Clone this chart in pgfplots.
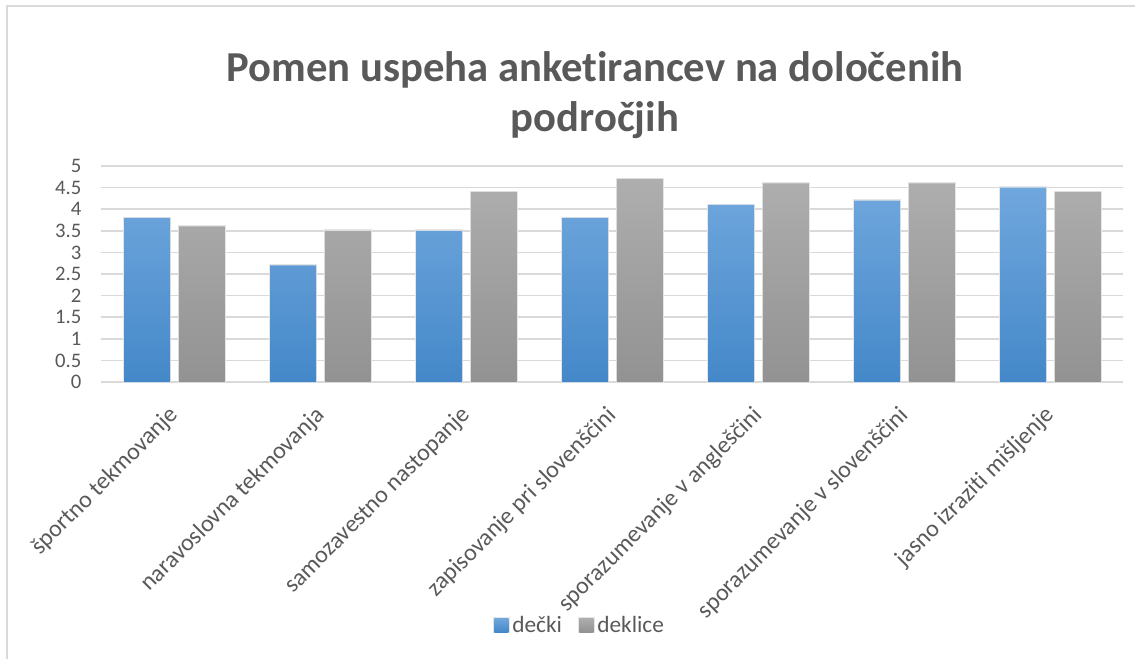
\documentclass[border=0pt]{standalone}
\usepackage{fontspec}
\setmainfont{Carlito}[Ligatures={NoCommon}]
\usepackage{pgfplots}
\pgfplotsset{compat=1.18}

\definecolor{txt}{HTML}{595959}
\definecolor{gridc}{HTML}{D9D9D9}
\definecolor{blueT}{HTML}{70A7DD}
\definecolor{blueB}{HTML}{4488C9}
\definecolor{grayT}{HTML}{AEAEAE}
\definecolor{grayB}{HTML}{929292}

\begin{document}
\begin{tikzpicture}
% page = 1135 x 659 px at 0.75pt/px
\useasboundingbox (0,0) rectangle (851.25pt,-494.25pt);
\draw[gridc, line width=1.1pt] (5.25pt,-4.5pt) rectangle (860pt,-505pt);

\node[font=\bfseries\fontsize{32}{37.5}\selectfont, text=txt, align=center]
  at (446.25pt,-71.25pt) {Pomen uspeha anketirancev na določenih\\področjih};

\begin{axis}[
    at={(76.125pt,-286.5pt)}, anchor=south west,
    width=766.5pt, height=162pt, scale only axis,
    xmin=-0.5, xmax=6.5,
    ymin=0, ymax=5,
    ytick={0,0.5,...,5},
    yticklabels={0,0.5,1,1.5,2,2.5,3,3.5,4,4.5,5},
    xtick={0,...,6},
    xticklabels={športno tekmovanje, naravoslovna tekmovanja, samozavestno nastopanje,
                 zapisovanje pri slovenščini, sporazumevanje v angleščini,
                 sporazumevanje v slovenščini, jasno izraziti mišljenje},
    axis x line*=bottom, axis y line*=left,
    y axis line style={draw=none},
    x axis line style={gridc, line width=1.1pt},
    tick style={draw=none},
    ymajorgrids=true,
    grid style={gridc, line width=1.1pt},
    yticklabel style={font=\fontsize{15.5}{18}\selectfont, text=txt, inner sep=0pt, anchor=east, xshift=-15pt},
    xticklabel style={font=\fontsize{18}{21}\selectfont, text=txt, inner sep=0pt,
                      rotate=45, anchor=north east, xshift=-12.5pt, yshift=-5pt},
    ybar, bar width=34.5pt,
    legend columns=2,
    legend style={at={(rel axis cs:0.468,-1.125)}, anchor=center, draw=none, fill=none,
                  font=\fontsize{17.5}{20}\selectfont, text=txt,
                  /tikz/every even column/.append style={column sep=10pt}},
    legend image code/.code={\path[#1, draw=none] (0pt,-5.25pt) rectangle (10.5pt,5.25pt);},
]
\addplot[draw=none, bar shift=-20.6pt, top color=blueT, bottom color=blueB,
         preaction={draw=black!10, line width=2pt}]
    coordinates {(0,3.8)(1,2.7)(2,3.5)(3,3.8)(4,4.1)(5,4.2)(6,4.5)};
\addlegendentry{dečki}
\addplot[draw=none, bar shift=20.6pt, top color=grayT, bottom color=grayB,
         preaction={draw=black!10, line width=2pt}]
    coordinates {(0,3.6)(1,3.5)(2,4.4)(3,4.7)(4,4.6)(5,4.6)(6,4.4)};
\addlegendentry{deklice}
\end{axis}
\end{tikzpicture}
\end{document}
